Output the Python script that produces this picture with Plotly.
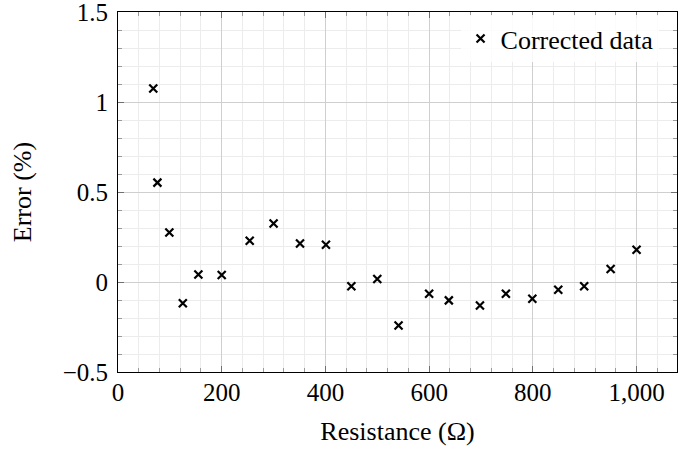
import plotly.graph_objects as go

resistance = [68, 76, 99, 125, 155, 200, 254, 300, 351, 401, 450, 500,
              541, 600, 638, 698, 748, 799, 849, 899, 950, 1000]
error_pct = [1.075, 0.552, 0.275, -0.118, 0.042, 0.039, 0.229, 0.325, 0.214, 0.207, -0.024, 0.017,
             -0.242, -0.065, -0.102, -0.131, -0.065, -0.093, -0.043, -0.024, 0.072, 0.179]
x_ticks = [0, 200, 400, 600, 800, 1000]
y_ticks = [-0.5, 0, 0.5, 1, 1.5]

FONT = "Times New Roman, Liberation Serif, serif"

fig = go.Figure()
fig.add_trace(go.Scatter(
    x=resistance, y=error_pct, mode="markers", name="Corrected data",
    marker=dict(symbol="x-thin-open", size=8, color="black",
                line=dict(width=2.2, color="black")),
))

axis_common = dict(
    showline=True, linecolor="black", linewidth=1, mirror="ticks",
    ticks="inside", ticklen=6, tickcolor="#707070", tickwidth=1,
    showgrid=True, gridcolor="#cfcfcf", gridwidth=1,
    zeroline=False, ticklabeloverflow="allow", automargin=False,
    tickfont=dict(family=FONT, size=25, color="black"),
)

fig.update_xaxes(
    range=[0, 1078], tickvals=x_ticks, tickformat=",d", ticklabelstandoff=-2,
    title=dict(text="Resistance (Ω)", font=dict(family=FONT, size=26, color="black"), standoff=16),
    minor=dict(dtick=40, tick0=0, ticks="inside", ticklen=4, tickcolor="#9a9a9a",
               showgrid=True, gridcolor="#ececec", gridwidth=1),
    **axis_common,
)
fig.update_yaxes(
    range=[-0.5, 1.5], tickvals=y_ticks, ticklabelstandoff=4,
    title=dict(text="Error (%)", font=dict(family=FONT, size=26, color="black"), standoff=23),
    minor=dict(dtick=0.1, tick0=0, ticks="inside", ticklen=4, tickcolor="#9a9a9a",
               showgrid=True, gridcolor="#ececec", gridwidth=1),
    **axis_common,
)

fig.update_layout(
    width=694, height=449,
    margin=dict(l=118, r=17, t=11.5, b=76.5),
    paper_bgcolor="white", plot_bgcolor="white",
    font=dict(family=FONT, size=25, color="black"),
    showlegend=True,
    legend=dict(x=0.967, xanchor="right", y=0.926, yanchor="middle",
                bgcolor="rgba(255,255,255,0.85)", borderwidth=0, itemwidth=30,
                font=dict(family=FONT, size=26, color="black")),
)

fig.write_html("out.html", config={"displayModeBar": False},
               post_script="document.body.style.margin='0';")
